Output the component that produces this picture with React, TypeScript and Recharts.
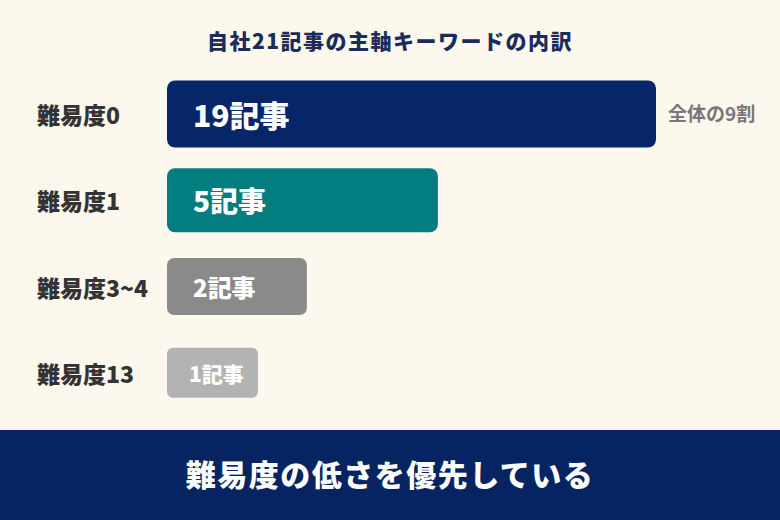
// @ts-nocheck
import { BarChart, Bar, XAxis, YAxis, Cell, LabelList } from 'recharts';

const levels = ['難易度0', '難易度1', '難易度3~4', '難易度13'];
const articleCounts = [19, 5, 2, 1];
// bar length as drawn, in percent of the longest bar
const barShare = [100, 55.4, 28.6, 18.6];
const notes = ['全体の9割', '', '', ''];

const chartTitle = '自社21記事の主軸キーワードの内訳';
const footerText = '難易度の低さを優先している';

const barColors = ['#07266a', '#037e80', '#8a8a8a', '#b3b3b3'];
const barHeights = [67, 64, 57, 50];
const barRadius = [8, 8, 7, 6];
const labelSizes = [30, 28, 24, 21];

const FONT = '"Noto Sans CJK JP", "Noto Sans", sans-serif';

const data = levels.map((level, i) => ({
  level,
  count: articleCounts[i],
  share: barShare[i],
  note: notes[i],
}));

const RoundedBar = (props) => {
  const { x, y, width, height, index, fill } = props;
  const h = barHeights[index];
  const top = y + height / 2 - h / 2;
  return <rect x={x} y={top} width={width} height={h} rx={barRadius[index]} ry={barRadius[index]} fill={fill} />;
};

const CountLabel = (props) => {
  const { x, y, height, index, value } = props;
  return (
    <text
      x={x + (index === 3 ? 22 : 26)}
      y={y + height / 2}
      dominantBaseline="central"
      fill="#ffffff"
      fontFamily={FONT}
      fontWeight={900}
      fontSize={labelSizes[index]}
    >
      {value}記事
    </text>
  );
};

const LevelTick = ({ y, payload }) => (
  <text
    x={37}
    y={y}
    dominantBaseline="central"
    textAnchor="start"
    fill="#333333"
    fontFamily={FONT}
    fontWeight={900}
    fontSize={23}
  >
    {payload.value}
  </text>
);

export default function App() {
  return (
    <div style={{ position: 'absolute', left: 0, top: 0, width: 780, height: 520, background: '#fcf8ed', overflow: 'hidden' }}>
      <div
        style={{
          position: 'absolute',
          top: 25,
          left: 0,
          width: 780,
          textAlign: 'center',
          fontFamily: FONT,
          fontWeight: 900,
          fontSize: 21,
          letterSpacing: 1.5,
          color: '#1a2b5c',
        }}
      >
        {chartTitle}
      </div>
      <BarChart
        width={780}
        height={520}
        data={data}
        layout="vertical"
        barCategoryGap={0}
        margin={{ top: 71, right: 124, bottom: 104, left: 0 }}
      >
        <XAxis type="number" domain={[0, 100]} hide />
        <YAxis
          type="category"
          dataKey="level"
          width={167}
          axisLine={false}
          tickLine={false}
          tick={<LevelTick />}
        />
        <Bar dataKey="share" shape={<RoundedBar />} isAnimationActive={false}>
          {data.map((d, i) => (
            <Cell key={d.level} fill={barColors[i]} />
          ))}
          <LabelList dataKey="count" content={<CountLabel />} />
          <LabelList
            dataKey="note"
            position="right"
            offset={12}
            fill="#777777"
            fontFamily={FONT}
            fontWeight={700}
            fontSize={19}
          />
        </Bar>
      </BarChart>
      <div
        style={{
          position: 'absolute',
          top: 430,
          left: 0,
          width: 780,
          height: 86,
          background: '#062461',
          display: 'flex',
          alignItems: 'center',
          justifyContent: 'center',
          fontFamily: FONT,
          fontWeight: 900,
          fontSize: 30,
          letterSpacing: 1.5,
          color: '#ffffff',
          paddingBottom: 4,
        }}
      >
        {footerText}
      </div>
    </div>
  );
}
